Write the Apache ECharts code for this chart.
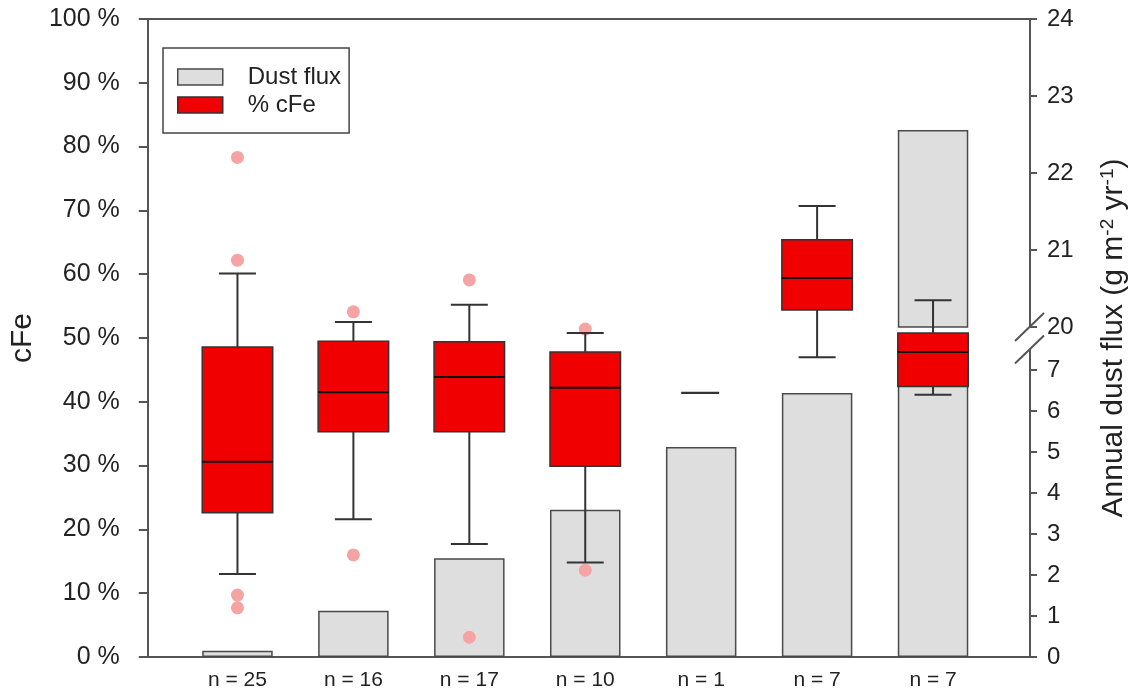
<!DOCTYPE html>
<html>
<head>
<meta charset="utf-8">
<script src="https://cdn.jsdelivr.net/npm/echarts@6/dist/echarts.min.js"></script>
<style>
html,body{margin:0;padding:0;background:#fff;}
#chart{width:1138px;height:691px;}
</style>
</head>
<body>
<div id="chart"></div>
<script>
// ---- data ----
const categories = ['n = 25', 'n = 16', 'n = 17', 'n = 10', 'n = 1', 'n = 7', 'n = 7'];
const dustFlux = [0.15, 1.13, 2.41, 3.59, 5.12, 6.44, 22.56];
const whiskerLow = [13.0, 21.6, 17.7, 14.8, null, 47.0, 41.1];
const boxQ1 = [22.6, 35.3, 35.3, 29.9, null, 54.4, 42.4];
const boxMedian = [30.6, 41.5, 43.9, 42.2, 41.4, 59.4, 47.8];
const boxQ3 = [48.6, 49.5, 49.4, 47.8, null, 65.4, 50.8];
const whiskerHigh = [60.1, 52.5, 55.2, 50.8, null, 70.7, 55.9];
const outlierCat = [0, 0, 0, 0, 1, 1, 2, 2, 3, 3];
const outlierVal = [78.3, 62.2, 9.7, 7.7, 54.1, 16.0, 59.1, 3.1, 51.4, 13.6];
const fluxLowerTicks = [0, 1, 2, 3, 4, 5, 6, 7];
const fluxUpperTicks = [20, 21, 22, 23, 24];
const fluxLowerMax = 7.5;
const fluxUpperMin = 20;
const fluxUpperMax = 24;

// ---- styles ----
const FONT = 'Liberation Sans, Arial, sans-serif';
const AX = '#555';
const TXT = '#222';
const BAR_FILL = '#dedede';
const BAR_EDGE = '#4a4a4a';
const RED = '#f00000';

const chart = echarts.init(document.getElementById('chart'));

const frame = {left: 137, top: 19, width: 893, height: 638};
const dataLeft = 179.5, dataWidth = 811.5;
const lowerTop = 349.5;
const upperBottomPx = 327;

const upperFlux = dustFlux.map(v => v > fluxUpperMin ? v : '-');

function renderBox(params, api) {
  const i = params.dataIndex;
  const bw = 70.5, cw = 37;
  const cx = api.coord([i, 0])[0];
  const y = v => api.coord([i, v])[1];
  const lineStyle = {stroke: '#333', lineWidth: 2};
  const children = [];
  if (boxQ1[i] == null) {
    children.push({type: 'line', shape: {x1: cx - 20, y1: y(boxMedian[i]), x2: cx + 18, y2: y(boxMedian[i])}, style: {stroke: '#333', lineWidth: 2.2}});
    return {type: 'group', children};
  }
  children.push({type: 'line', shape: {x1: cx, y1: y(whiskerHigh[i]), x2: cx, y2: y(boxQ3[i])}, style: lineStyle});
  children.push({type: 'line', shape: {x1: cx, y1: y(boxQ1[i]), x2: cx, y2: y(whiskerLow[i])}, style: lineStyle});
  children.push({type: 'line', shape: {x1: cx - cw / 2, y1: y(whiskerHigh[i]), x2: cx + cw / 2, y2: y(whiskerHigh[i])}, style: lineStyle});
  children.push({type: 'line', shape: {x1: cx - cw / 2, y1: y(whiskerLow[i]), x2: cx + cw / 2, y2: y(whiskerLow[i])}, style: lineStyle});
  const yt = y(boxQ3[i]), yb = y(boxQ1[i]);
  children.push({type: 'rect', shape: {x: cx - bw / 2, y: yt, width: bw, height: yb - yt}, style: {fill: RED, stroke: '#333', lineWidth: 1.5}});
  children.push({type: 'line', shape: {x1: cx - bw / 2, y1: y(boxMedian[i]), x2: cx + bw / 2, y2: y(boxMedian[i])}, style: {stroke: '#111', lineWidth: 2}});
  return {type: 'group', children};
}

const option = {
  animation: false,
  backgroundColor: '#fff',
  textStyle: {fontFamily: FONT},
  legend: {
    left: 163, top: 48,
    orient: 'vertical',
    selectedMode: false,
    backgroundColor: '#fff',
    borderColor: '#444', borderWidth: 1.5, borderRadius: 0,
    padding: [17, 8, 16, 14],
    itemWidth: 45, itemHeight: 16, itemGap: 4,
    textStyle: {fontSize: 24, color: TXT, fontFamily: FONT, padding: [0, 0, 0, 20]},
    data: [
      {name: 'Dust flux', icon: 'rect', itemStyle: {color: BAR_FILL, borderColor: BAR_EDGE, borderWidth: 1.5}},
      {name: '% cFe', icon: 'rect', itemStyle: {color: RED, borderColor: '#333', borderWidth: 1.5}}
    ]
  },
  grid: [
    {left: frame.left, top: frame.top, width: frame.width, height: frame.height},            // 0 frame
    {left: dataLeft, top: lowerTop, width: dataWidth, bottom: 691 - 657},                     // 1 lower bars
    {left: dataLeft, top: 19, width: dataWidth, height: upperBottomPx - 19},                   // 2 upper bars
    {left: dataLeft, top: frame.top, width: dataWidth, height: frame.height}                  // 3 boxes
  ],
  xAxis: [
    {gridIndex: 0, type: 'value', min: 0, max: 1, position: 'bottom',
     axisLine: {show: true, onZero: false, lineStyle: {color: AX, width: 2}},
     axisTick: {show: false}, axisLabel: {show: false}, splitLine: {show: false}},
    {gridIndex: 0, type: 'value', min: 0, max: 1, position: 'top',
     axisLine: {show: true, onZero: false, lineStyle: {color: AX, width: 2}},
     axisTick: {show: false}, axisLabel: {show: false}, splitLine: {show: false}},
    {gridIndex: 1, type: 'category', data: categories, position: 'bottom',
     axisLine: {show: false}, axisTick: {show: false},
     axisLabel: {fontSize: 21, color: TXT, margin: 13, interval: 0, fontFamily: FONT}},
    {gridIndex: 2, type: 'category', data: categories, show: false},
    {gridIndex: 3, type: 'category', data: categories, show: false}
  ],
  yAxis: [
    {gridIndex: 0, type: 'value', min: 0, max: 100, interval: 10, position: 'left',
     name: 'cFe', nameLocation: 'middle', nameGap: 99,
     nameTextStyle: {fontSize: 30, color: TXT, fontFamily: FONT},
     axisLine: {show: true, lineStyle: {color: AX, width: 2}},
     axisTick: {show: true, length: 9, lineStyle: {color: AX, width: 2}},
     axisLabel: {formatter: '{value} %', fontSize: 25, color: TXT, margin: 28, fontFamily: FONT},
     splitLine: {show: false}},
    {gridIndex: 1, type: 'value', min: 0, max: fluxLowerMax, position: 'right', offset: 1030 - (dataLeft + dataWidth),
     axisLine: {show: true, lineStyle: {color: AX, width: 2}},
     axisTick: {show: true, length: 7, customValues: fluxLowerTicks, lineStyle: {color: AX, width: 2}},
     axisLabel: {customValues: fluxLowerTicks, fontSize: 24, color: TXT, margin: 17, fontFamily: FONT},
     splitLine: {show: false}},
    {gridIndex: 2, type: 'value', min: fluxUpperMin, max: fluxUpperMax, interval: 1, position: 'right', offset: 1030 - (dataLeft + dataWidth),
     axisLine: {show: true, lineStyle: {color: AX, width: 2}},
     axisTick: {show: true, length: 7, customValues: fluxUpperTicks, lineStyle: {color: AX, width: 2}},
     axisLabel: {customValues: fluxUpperTicks, fontSize: 24, color: TXT, margin: 17, fontFamily: FONT},
     splitLine: {show: false}},
    {gridIndex: 3, type: 'value', min: 0, max: 100, show: false},
    {gridIndex: 0, type: 'value', min: 0, max: 1, position: 'right',
     name: 'Annual dust flux (g m{sup|-2} yr{sup|-1})', nameLocation: 'middle', nameGap: 68,
     nameTextStyle: {fontSize: 30, color: TXT, fontFamily: FONT, lineHeight: 32,
       rich: {sup: {fontSize: 19, color: TXT, fontFamily: FONT, verticalAlign: 'top', lineHeight: 20}}},
     axisLine: {show: false}, axisTick: {show: false}, axisLabel: {show: false}, splitLine: {show: false}}
  ],
  series: [
    {name: 'Dust flux', type: 'bar', xAxisIndex: 2, yAxisIndex: 1, data: dustFlux, barWidth: 70.5, clip: true, z: 2,
     itemStyle: {color: BAR_FILL, borderColor: BAR_EDGE, borderWidth: 1.5}},
    {name: 'Dust flux', type: 'bar', xAxisIndex: 3, yAxisIndex: 2, data: upperFlux, barWidth: 70.5, clip: true, z: 2,
     itemStyle: {color: BAR_FILL, borderColor: BAR_EDGE, borderWidth: 1.5}},
    {name: 'outliers', type: 'scatter', xAxisIndex: 4, yAxisIndex: 3, z: 3,
     data: outlierCat.map((c, k) => [c, outlierVal[k]]),
     symbol: 'circle', symbolSize: 13, itemStyle: {color: '#f5a3a3', opacity: 1}},
    {name: '% cFe', type: 'custom', xAxisIndex: 4, yAxisIndex: 3, z: 4,
     data: categories.map((c, i) => [i, boxMedian[i]]),
     renderItem: renderBox, itemStyle: {color: RED}}
  ]
};

chart.setOption(option);

// axis break marks on right axis
const xr = chart.convertToPixel({xAxisIndex: 0}, 1);
const yBreakTop = chart.convertToPixel({yAxisIndex: 2}, fluxUpperMin);
const yBreakBot = chart.convertToPixel({yAxisIndex: 1}, fluxLowerMax);
chart.setOption({
  graphic: [
    {type: 'line', z: 100, shape: {x1: xr - 15, y1: yBreakTop + 14, x2: xr + 14, y2: yBreakTop - 14}, style: {stroke: AX, lineWidth: 2}},
    {type: 'line', z: 100, shape: {x1: xr - 15, y1: yBreakBot + 14, x2: xr + 14, y2: yBreakBot - 14}, style: {stroke: AX, lineWidth: 2}}
  ]
});
</script>
</body>
</html>
